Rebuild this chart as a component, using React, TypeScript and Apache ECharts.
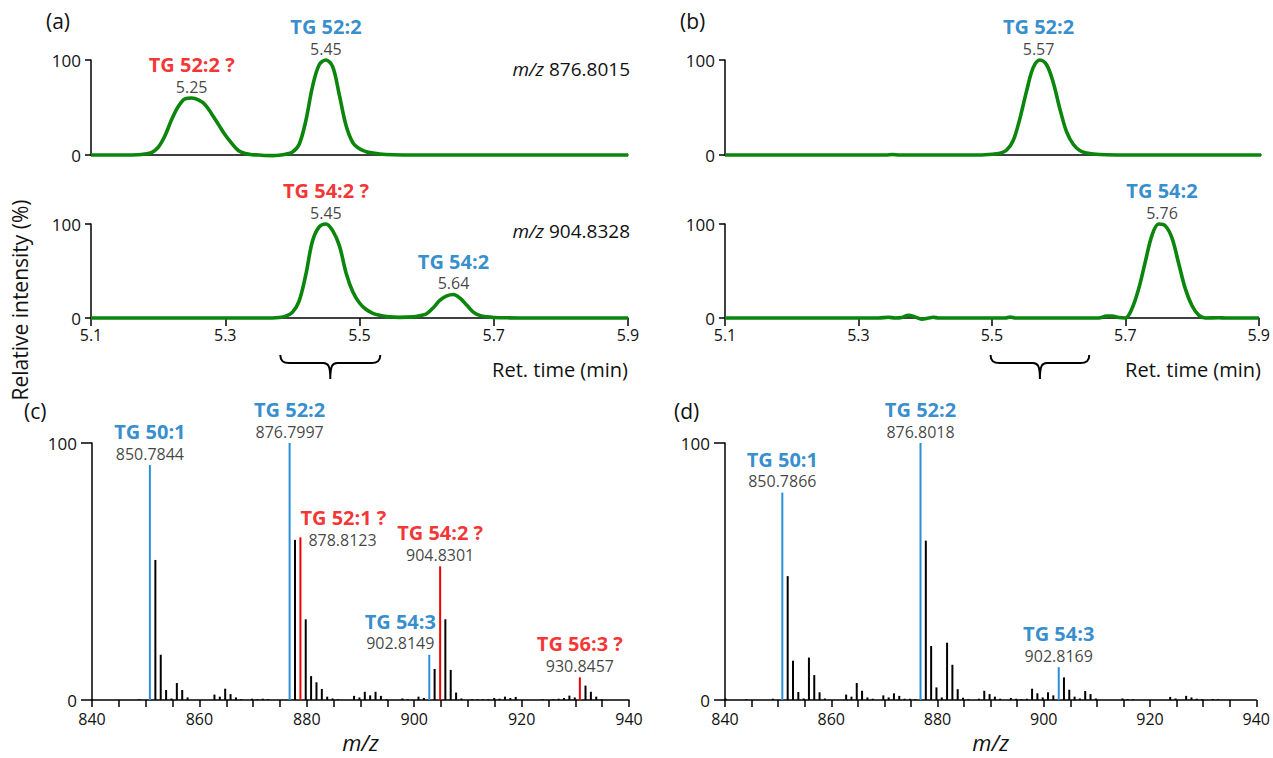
import React, { useEffect, useRef } from "react";
import * as echarts from "echarts";

type Pt = [number, number];

// ---------- axis ticks ----------
const rtTicks = [5.1, 5.3, 5.5, 5.7, 5.9];
const mzTicks = [840, 845, 850, 855, 860, 865, 870, 875, 880, 885, 890, 895, 900, 905, 910, 915, 920, 925, 930, 935, 940];
const mzLabels = [840, 860, 880, 900, 920, 940];
const intensityTicks = [0, 100];

// ---------- chromatograms (ret. time, relative intensity %) ----------
const chromA_876: Pt[] = [
  [5.10, 0], [5.15, 0], [5.17, 0.3], [5.18, 1], [5.19, 2.5], [5.20, 8], [5.21, 20], [5.22, 37], [5.23, 51],
  [5.24, 59], [5.25, 60], [5.26, 58], [5.27, 53], [5.28, 43], [5.29, 32], [5.30, 21], [5.31, 12], [5.32, 4.5],
  [5.33, 1.5], [5.34, 0.3], [5.35, 0], [5.36, -0.6], [5.37, -0.7], [5.38, -0.3], [5.39, 0.8], [5.40, 3],
  [5.41, 11], [5.42, 36], [5.43, 72], [5.44, 95], [5.45, 100], [5.46, 93], [5.47, 63], [5.48, 31], [5.49, 13],
  [5.50, 6.5], [5.51, 3.5], [5.52, 2], [5.53, 1], [5.55, 0.3], [5.58, 0], [5.90, 0],
];
const chromA_904: Pt[] = [
  [5.10, 0], [5.37, 0], [5.38, 0.5], [5.39, 2], [5.40, 6], [5.41, 18], [5.42, 46], [5.43, 82], [5.44, 97],
  [5.45, 100], [5.46, 93], [5.47, 77], [5.48, 48], [5.49, 28], [5.50, 16], [5.51, 9], [5.52, 5], [5.53, 2.8],
  [5.54, 1.5], [5.56, 0.7], [5.58, 1.2], [5.59, 2.5], [5.60, 4.5], [5.61, 11], [5.62, 19], [5.63, 23.5],
  [5.64, 25], [5.65, 21], [5.66, 13.5], [5.67, 6], [5.68, 2.5], [5.69, 1.2], [5.70, 0.6], [5.72, 0.2],
  [5.75, 0], [5.90, 0],
];
const chromB_876: Pt[] = [
  [5.10, 0], [5.34, 0], [5.35, 0.6], [5.36, 0], [5.48, 0], [5.50, 0.8], [5.51, 1.8], [5.52, 5], [5.53, 15],
  [5.54, 38], [5.55, 67], [5.56, 92], [5.57, 100], [5.58, 95], [5.59, 76], [5.60, 48], [5.61, 24], [5.62, 11],
  [5.63, 4.5], [5.64, 2], [5.65, 1], [5.67, 0.3], [5.70, 0], [5.90, 0],
];
const chromB_904: Pt[] = [
  [5.10, 0], [5.33, 0], [5.345, 0.8], [5.355, 0], [5.365, 0.5], [5.375, 3], [5.385, 1], [5.395, -1.2],
  [5.405, 0], [5.412, 0.8], [5.42, 0], [5.52, 0], [5.528, 1], [5.535, 0], [5.66, 0], [5.672, 2], [5.68, 2.2],
  [5.69, 0.5], [5.70, 0], [5.71, 10], [5.72, 31], [5.73, 60], [5.74, 88], [5.75, 100], [5.76, 98], [5.77, 85],
  [5.78, 58], [5.79, 31], [5.80, 13], [5.81, 3], [5.82, 0], [5.84, 0.3], [5.85, 0], [5.90, 0],
];

// ---------- mass spectra (m/z, relative intensity %) ----------
const specC_other: Pt[] = [
  [848.8, 0.3], [851.8, 54.5], [852.8, 17.6], [853.8, 3.9], [854.8, 0.6], [855.8, 6.6], [856.8, 3.9], [857.8, 1.0],
  [862.8, 2.1], [863.8, 1.3], [864.8, 4.4], [865.8, 2.3], [866.8, 1.0], [867.8, 0.3], [869.8, 0.5], [870.8, 0.3],
  [871.8, 0.5], [872.8, 0.3], [877.8, 62.3], [879.8, 31.4], [880.8, 9.3], [881.8, 6.9], [882.8, 4.3], [883.8, 1.3],
  [884.8, 0.6], [885.8, 0.3], [888.8, 1.6], [889.8, 1.0], [890.8, 3.2], [891.8, 1.8], [892.8, 3.2], [893.8, 1.6],
  [894.8, 0.3], [897.8, 0.6], [898.8, 0.3], [900.8, 1.3], [901.8, 0.8], [903.8, 12.1], [905.8, 31.4], [906.8, 11.7],
  [907.8, 2.9], [908.8, 0.6], [910.8, 0.3], [911.8, 0.3], [912.8, 0.3], [913.8, 0.3], [914.9, 0.8], [915.9, 0.5],
  [916.9, 1.3], [917.9, 0.8], [918.9, 1.2], [923.9, 0.3], [925.9, 0.3], [926.9, 0.5], [927.9, 0.8], [928.9, 1.7],
  [929.9, 1.0], [931.9, 5.6], [932.9, 3.2], [933.9, 1.3], [934.9, 0.3],
];
const specC_confirmed: Pt[] = [[850.78, 91.4], [876.80, 100], [902.81, 17.6]];
const specC_tentative: Pt[] = [[878.81, 63.3], [904.83, 52], [930.85, 8.8]];

const specD_other: Pt[] = [
  [840.1, 0.6], [844, 0.3], [849, 0.5], [851.8, 48.2], [852.8, 15.3], [853.8, 3.1], [854.8, 0.6], [855.8, 16.5],
  [856.8, 9.7], [857.8, 3.0], [858.8, 0.6], [862.8, 2.1], [863.8, 1.3], [864.8, 6.6], [865.8, 3.6], [866.8, 1.0],
  [867.8, 0.5], [869.8, 1.8], [870.8, 1.0], [871.8, 2.6], [872.8, 1.6], [873.8, 0.5], [874.8, 0.5], [875.8, 0.3],
  [877.8, 62], [878.8, 21], [879.8, 4.9], [880.8, 1.0], [881.8, 22.3], [882.8, 13.7], [883.8, 4.2], [884.8, 0.9],
  [885.8, 0.3], [887.8, 0.5], [888.8, 3.6], [889.8, 2.3], [890.8, 1.3], [891.8, 0.5], [893.8, 0.8], [894.8, 0.5],
  [895.8, 0.3], [896.8, 0.5], [897.8, 4.4], [898.8, 2.6], [899.8, 1.0], [900.8, 3.0], [901.8, 1.8], [903.8, 8.8],
  [904.8, 4.0], [905.8, 1.3], [906.8, 0.6], [907.8, 3.5], [908.8, 2.3], [909.8, 0.6], [914.8, 0.6], [915.8, 0.4],
  [916.8, 0.3], [923.8, 1.2], [924.8, 0.6], [926.8, 1.6], [927.8, 1.0], [928.8, 0.5], [929.8, 0.3], [931.8, 0.4],
  [932.8, 0.3],
];
const specD_confirmed: Pt[] = [[850.79, 80.7], [876.80, 100], [902.82, 12.8]];

// ---------- annotations ----------
type Ann = { name: string; sub: string; x: number; y: number; tentative: boolean };
const annA_876: Ann[] = [
  { name: "TG 52:2 ?", sub: "5.25", x: 5.25, y: 60, tentative: true },
  { name: "TG 52:2", sub: "5.45", x: 5.45, y: 100, tentative: false },
];
const annA_904: Ann[] = [
  { name: "TG 54:2 ?", sub: "5.45", x: 5.45, y: 100, tentative: true },
  { name: "TG 54:2", sub: "5.64", x: 5.64, y: 25, tentative: false },
];
const annB_876: Ann[] = [{ name: "TG 52:2", sub: "5.57", x: 5.568, y: 100, tentative: false }];
const annB_904: Ann[] = [{ name: "TG 54:2", sub: "5.76", x: 5.755, y: 100, tentative: false }];
const annC: Ann[] = [
  { name: "TG 50:1", sub: "850.7844", x: 850.78, y: 91.4, tentative: false },
  { name: "TG 52:2", sub: "876.7997", x: 876.80, y: 100, tentative: false },
  { name: "TG 52:1 ?", sub: "878.8123", x: 878.81, y: 63.3, tentative: true },
  { name: "TG 54:2 ?", sub: "904.8301", x: 904.83, y: 52, tentative: true },
  { name: "TG 54:3", sub: "902.8149", x: 902.81, y: 17.6, tentative: false },
  { name: "TG 56:3 ?", sub: "930.8457", x: 930.85, y: 8.8, tentative: true },
];
const annD: Ann[] = [
  { name: "TG 50:1", sub: "850.7866", x: 850.79, y: 80.7, tentative: false },
  { name: "TG 52:2", sub: "876.8018", x: 876.80, y: 100, tentative: false },
  { name: "TG 54:3", sub: "902.8169", x: 902.82, y: 12.8, tentative: false },
];

// ---------- brace ranges under the chromatograms (ret. time) ----------
const braceA: Pt[] = [[5.382, 5.531]];
const braceB: Pt[] = [[5.498, 5.646]];

// ---------- styling ----------
const FONT = "'Open Sans', 'Noto Sans', sans-serif";
const GREEN = "#0b850b";
const BLUE = "#0070c0";
const RED = "#f00000";
const BAR_BLUE = "#2a8fd6";
const BAR_RED = "#f00000";
const INK = "#111";
const BRACE_PATH =
  "M0,0 C0,6 3,8 9,8 L43,8 C48,8 50,11 50,24 C50,11 52,8 57,8 L91,8 C97,8 100,6 100,0";

const grids = [
  { left: 91, top: 60, width: 537, height: 95 },
  { left: 91, top: 224, width: 537, height: 94 },
  { left: 725, top: 60, width: 536, height: 95 },
  { left: 725, top: 224, width: 536, height: 94 },
  { left: 92, top: 443, width: 537, height: 257 },
  { left: 725, top: 443, width: 536, height: 257 },
];

const lineStyleAxis = { color: "#000", width: 1.5 };

function rtAxis(gi: number, withTicks: boolean) {
  return {
    type: "value",
    gridIndex: gi,
    min: 5.1,
    max: 5.9,
    axisLine: { show: true, onZero: false, lineStyle: lineStyleAxis },
    splitLine: { show: false },
    axisTick: { show: withTicks, customValues: rtTicks, length: 8, lineStyle: lineStyleAxis },
    axisLabel: {
      show: withTicks,
      customValues: rtTicks,
      formatter: (v: number) => v.toFixed(1),
      margin: 9,
      fontSize: 16,
      color: INK,
      fontFamily: FONT,
    },
  };
}

function mzAxis(gi: number) {
  return {
    type: "value",
    gridIndex: gi,
    min: 840,
    max: 940,
    axisLine: { show: true, onZero: false, lineStyle: lineStyleAxis },
    splitLine: { show: false },
    axisTick: { show: true, customValues: mzTicks, length: 7, lineStyle: lineStyleAxis },
    axisLabel: { customValues: mzLabels, margin: 11, fontSize: 16, color: INK, fontFamily: FONT },
    name: "m/z",
    nameLocation: "middle",
    nameGap: 31,
    nameTextStyle: { fontStyle: "italic", fontSize: 22, color: INK, fontFamily: FONT },
  };
}

function intensityAxis(gi: number, tickLen: number) {
  return {
    type: "value",
    gridIndex: gi,
    min: 0,
    max: 100,
    axisLine: { show: true, onZero: false, lineStyle: lineStyleAxis },
    splitLine: { show: false },
    axisTick: { show: true, customValues: intensityTicks, length: tickLen, lineStyle: lineStyleAxis },
    axisLabel: { customValues: intensityTicks, margin: tickLen + 4, fontSize: 17, color: INK, fontFamily: FONT },
  };
}

function chromSeries(data: Pt[], gi: number) {
  return {
    type: "line",
    xAxisIndex: gi,
    yAxisIndex: gi,
    data,
    showSymbol: false,
    symbol: "none",
    smooth: 0.35,
    clip: false,
    silent: true,
    z: 3,
    lineStyle: { color: GREEN, width: 3.6 },
  };
}

function stickSeries(data: Pt[], gi: number, color: string, z: number) {
  return {
    type: "custom",
    xAxisIndex: gi,
    yAxisIndex: gi,
    data,
    silent: true,
    z,
    renderItem: (_p: any, api: any) => {
      const x = api.value(0);
      const y = api.value(1);
      const p0 = api.coord([x, 0]);
      const p1 = api.coord([x, y]);
      return {
        type: "line",
        shape: { x1: p0[0], y1: p0[1], x2: p1[0], y2: p1[1] },
        style: { stroke: color, lineWidth: 2 },
      };
    },
  };
}

function braceSeries(data: Pt[], gi: number) {
  return {
    type: "custom",
    xAxisIndex: gi,
    yAxisIndex: gi,
    data,
    silent: true,
    clip: false,
    renderItem: (_p: any, api: any) => {
      const a = api.coord([api.value(0), 0]);
      const b = api.coord([api.value(1), 0]);
      return {
        type: "path",
        shape: { pathData: BRACE_PATH, x: a[0], y: a[1] + 37, width: b[0] - a[0], height: 24, layout: "cover" },
        style: { fill: "none", stroke: "#000", lineWidth: 2 },
      };
    },
  };
}

// special label placements (by panel + name)
const placements: Record<string, any> = {
  "c|TG 52:1 ?": { align: "left", offset: [0, 14] },
  "c|TG 54:3": { offset: [-29, 0] },
};

function fmt(a: Ann, padded: boolean) {
  return `{${a.tentative ? "t" : "c"}|${a.name}}\n{${padded ? "vp" : "v"}|${a.sub}}`;
}

function annSeries(items: Ann[], gi: number, panel: string) {
  return {
    type: "scatter",
    xAxisIndex: gi,
    yAxisIndex: gi,
    symbolSize: 1,
    silent: true,
    z: 6,
    itemStyle: { color: "rgba(0,0,0,0)" },
    data: items.map((a) => {
      const pl = placements[panel + "|" + a.name];
      return {
        value: [a.x, a.y],
        label: pl ? { ...pl, formatter: fmt(a, !!pl.align) } : { formatter: fmt(a, false) },
      };
    }),
    label: {
      show: true,
      position: "top",
      distance: 1,
      rich: {
        c: { color: BLUE, fontWeight: "bold", fontSize: 20, lineHeight: 24, fontFamily: FONT },
        t: { color: RED, fontWeight: "bold", fontSize: 20, lineHeight: 24, fontFamily: FONT },
        v: { color: INK, fontSize: 16, lineHeight: 20, fontFamily: FONT },
        vp: { color: INK, fontSize: 16, lineHeight: 20, fontFamily: FONT, padding: [0, 0, 0, 8] },
      },
    },
  };
}

function txt(text: string, x: number, y: number, size: number, align = "left", extra: any = {}) {
  return {
    type: "text",
    x,
    y,
    silent: true,
    style: {
      text,
      fontSize: size,
      fontFamily: FONT,
      fill: INK,
      align,
      verticalAlign: "middle",
      ...extra,
    },
  };
}

function buildOption() {
  const mzRich = { rich: { i: { fontStyle: "italic", fontSize: 19, fontFamily: FONT, fill: INK } } };
  return {
    animation: false,
    backgroundColor: "#ffffff",
    grid: grids,
    xAxis: [rtAxis(0, false), rtAxis(1, true), rtAxis(2, false), rtAxis(3, true), mzAxis(4), mzAxis(5)],
    yAxis: [
      intensityAxis(0, 6),
      intensityAxis(1, 6),
      intensityAxis(2, 6),
      intensityAxis(3, 6),
      intensityAxis(4, 11),
      intensityAxis(5, 11),
    ],
    series: [
      chromSeries(chromA_876, 0),
      chromSeries(chromA_904, 1),
      chromSeries(chromB_876, 2),
      chromSeries(chromB_904, 3),
      stickSeries(specC_other, 4, "#000", 2),
      stickSeries(specC_confirmed, 4, BAR_BLUE, 3),
      stickSeries(specC_tentative, 4, BAR_RED, 3),
      stickSeries(specD_other, 5, "#000", 2),
      stickSeries(specD_confirmed, 5, BAR_BLUE, 3),
      braceSeries(braceA, 1),
      braceSeries(braceB, 3),
      annSeries(annA_876, 0, "a1"),
      annSeries(annA_904, 1, "a2"),
      annSeries(annB_876, 2, "b1"),
      annSeries(annB_904, 3, "b2"),
      annSeries(annC, 4, "c"),
      annSeries(annD, 5, "d"),
    ],
    graphic: [
      txt("(a)", 46, 21, 21),
      txt("(b)", 680, 21, 21),
      txt("(c)", 24, 411, 21),
      txt("(d)", 674, 411, 21),
      txt("{i|m/z} 876.8015", 630, 69, 19, "right", mzRich),
      txt("{i|m/z} 904.8328", 630, 231, 19, "right", mzRich),
      txt("Ret. time (min)", 628, 369, 20, "right"),
      txt("Ret. time (min)", 1261, 369, 20, "right"),
      {
        type: "text",
        x: 20,
        y: 300,
        rotation: Math.PI / 2,
        silent: true,
        style: {
          text: "Relative intensity (%)",
          fontSize: 21,
          fontFamily: FONT,
          fill: INK,
          align: "center",
          verticalAlign: "middle",
        },
      },
    ],
  };
}

export default function App() {
  const ref = useRef<HTMLDivElement>(null);
  useEffect(() => {
    if (!ref.current) return;
    const chart = echarts.init(ref.current, undefined, { renderer: "svg" });
    chart.setOption(buildOption() as any);
    return () => chart.dispose();
  }, []);
  return (
    <div
      ref={ref}
      style={{ position: "absolute", left: 0, top: 0, width: 1273, height: 758, background: "#fff" }}
    />
  );
}
